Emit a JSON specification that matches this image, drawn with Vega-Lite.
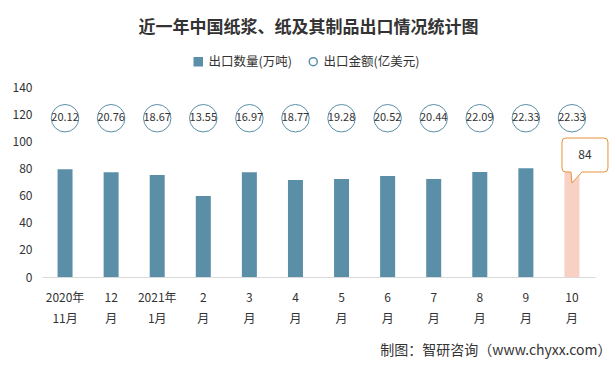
{
  "$schema": "https://vega.github.io/schema/vega-lite/v6.json",
  "width": 553,
  "height": 190,
  "autosize": {"type": "none"},
  "padding": {"left": 42, "top": 87, "right": 21, "bottom": 92},
  "background": "white",
  "config": {
    "font": "Noto Sans CJK SC",
    "view": {"stroke": null},
    "axisY": {
      "title": null,
      "values": [0, 20, 40, 60, 80, 100, 120, 140],
      "labelOverlap": false,
      "domain": false,
      "ticks": false,
      "grid": false,
      "labelFontSize": 12,
      "labelColor": "#333333",
      "labelPadding": 10
    }
  },
  "title": {
    "text": "近一年中国纸浆、纸及其制品出口情况统计图",
    "fontSize": 17,
    "fontWeight": "bold",
    "color": "#333333",
    "dx": -10,
    "offset": 18
  },
  "data": {
    "values": [
      {"month": "2020年\n11月", "qty": 79.4, "amount": 20.12},
      {"month": "12\n月", "qty": 77.2, "amount": 20.76},
      {"month": "2021年\n1月", "qty": 75.1, "amount": 18.67},
      {"month": "2\n月", "qty": 59.6, "amount": 13.55},
      {"month": "3\n月", "qty": 77.2, "amount": 16.97},
      {"month": "4\n月", "qty": 71.4, "amount": 18.77},
      {"month": "5\n月", "qty": 72.2, "amount": 19.28},
      {"month": "6\n月", "qty": 74.4, "amount": 20.52},
      {"month": "7\n月", "qty": 72.2, "amount": 20.44},
      {"month": "8\n月", "qty": 77.4, "amount": 22.09},
      {"month": "9\n月", "qty": 80.2, "amount": 22.33},
      {"month": "10\n月", "qty": 84, "amount": 22.33}
    ]
  },
  "encoding": {
    "x": {
      "field": "month",
      "type": "ordinal",
      "sort": null,
      "scale": {"paddingInner": 0, "paddingOuter": 0},
      "axis": {
        "title": "制图：智研咨询（www.chyxx.com）",
        "titleFontSize": 14,
        "titleFontWeight": "normal",
        "titleColor": "#333333",
        "titleAnchor": "end",
        "titleAlign": "right",
        "titleBaseline": "middle",
        "titleX": 569,
        "titleY": 73,
        "labelExpr": "split(datum.label, '\\n')",
        "labelAngle": 0,
        "labelFontSize": 12,
        "labelColor": "#333333",
        "labelLineHeight": 21,
        "labelPadding": 20,
        "labelBaseline": "middle",
        "ticks": false,
        "domainColor": "#d9d9d9",
        "grid": false
      }
    },
    "y": {
      "field": "qty",
      "type": "quantitative",
      "title": null,
      "scale": {"domain": [0, 140], "nice": false},
      "axis": {"values": [0, 20, 40, 60, 80, 100, 120, 140], "labelOverlap": false}
    }
  },
  "layer": [
    {
      "mark": {"type": "bar", "size": 15},
      "encoding": {
        "color": {
          "condition": {"test": "datum.month === '10\\n月'", "value": "#f8d0c4"},
          "value": "#5b8fa8"
        }
      }
    },
    {
      "mark": {"type": "point", "stroke": "#5b8fa8", "strokeWidth": 1, "size": 755, "opacity": 1},
      "encoding": {
        "y": {"datum": 117, "type": "quantitative"},
        "fill": {
          "datum": "出口金额(亿美元)",
          "scale": {"domain": ["出口数量(万吨)", "出口金额(亿美元)"], "range": ["#5b8fa8", "#ffffff"]},
          "legend": {
            "title": null,
            "orient": "none",
            "direction": "horizontal",
            "legendX": 150,
            "legendY": -32,
            "labelFontSize": 12.5,
            "labelColor": "#333333",
            "symbolSize": 64,
            "columnPadding": 14,
            "encode": {
              "symbols": {
                "update": {
                  "stroke": {"value": "#5b8fa8"},
                  "strokeWidth": {"value": 1}
                }
              }
            }
          }
        },
        "shape": {
          "datum": "出口金额(亿美元)",
          "scale": {"domain": ["出口数量(万吨)", "出口金额(亿美元)"], "range": ["square", "circle"]},
          "legend": {
            "title": null,
            "orient": "none",
            "direction": "horizontal",
            "legendX": 150,
            "legendY": -32,
            "labelFontSize": 12.5,
            "labelColor": "#333333",
            "symbolSize": 64,
            "columnPadding": 14,
            "encode": {
              "symbols": {
                "update": {
                  "stroke": {"value": "#5b8fa8"},
                  "strokeWidth": {"value": 1}
                }
              }
            }
          }
        }
      }
    },
    {
      "mark": {"type": "text", "fontSize": 11, "color": "#333333"},
      "encoding": {
        "y": {"datum": 117, "type": "quantitative"},
        "text": {"field": "amount", "type": "quantitative", "format": ".2f"}
      }
    },
    {
      "transform": [{"filter": "datum.month === '10\\n月'"}],
      "mark": {
        "type": "point",
        "filled": true,
        "fill": "white",
        "stroke": "#e8913a",
        "strokeWidth": 1,
        "opacity": 1,
        "size": 4,
        "shape": "M -6 -25 L 32 -25 Q 36 -25 36 -21 L 36 5 Q 36 9 32 9 L 10 9 L 0 20 L -1 9 L -6 9 Q -10 9 -10 5 L -10 -21 Q -10 -25 -6 -25 Z"
      }
    },
    {
      "transform": [{"filter": "datum.month === '10\\n月'"}],
      "mark": {"type": "text", "fontSize": 12, "color": "#333333", "dx": 13, "dy": -8},
      "encoding": {
        "text": {"field": "qty", "type": "quantitative"}
      }
    }
  ]
}
